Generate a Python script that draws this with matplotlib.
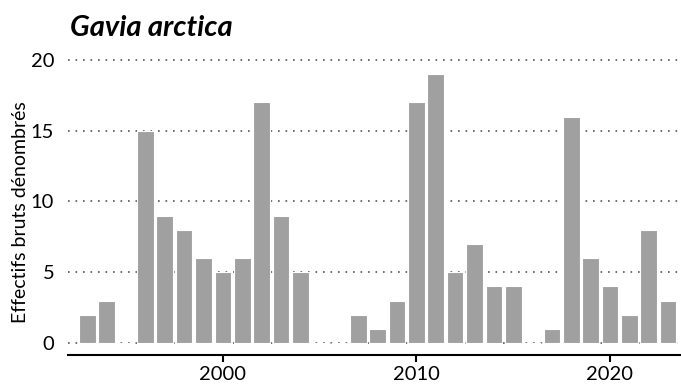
import matplotlib
matplotlib.use("Agg")
import matplotlib.pyplot as plt

years = list(range(1993, 2024))
counts = [2, 3, 0, 15, 9, 8, 6, 5, 6, 17, 9, 5, 0, 0, 2, 1, 3, 17, 19, 5, 7, 4, 4, 0, 1, 16, 6, 4, 2, 8, 3]
xticks = [2000, 2010, 2020]
yticks = [0, 5, 10, 15, 20]

plt.rcParams['font.family'] = ['Lato', 'DejaVu Sans']

fig = plt.figure(figsize=(6.81, 3.92), dpi=100)
ax = fig.add_axes([0.0999, 0.0944, 0.9001, 0.76])

ax.bar(years, counts, width=0.86, color='#a0a0a0', edgecolor='white', linewidth=0.8, zorder=2)

ax.set_xlim(1992.0, 2023.67)
ax.set_ylim(-0.85, 20.2)
ax.set_xticks(xticks)
ax.set_yticks(yticks)
ax.yaxis.grid(True, linestyle=(0, (1, 3.5)), color='#555555', linewidth=1.2, zorder=0)
ax.set_axisbelow(True)

for s in ['top', 'right', 'left']:
    ax.spines[s].set_visible(False)
ax.spines['bottom'].set_linewidth(1.5)
ax.tick_params(axis='y', length=0, labelsize=14.5, pad=10)
ax.tick_params(axis='x', length=5, width=1.5, labelsize=14.5, pad=3)

ax.set_ylabel('Effectifs bruts dénombrés', fontsize=14)
ax.yaxis.set_label_coords(-0.064, 0.48)
fig.text(0.103, 0.928, 'Gavia arctica', fontsize=21, fontweight='bold', fontstyle='italic', va='center', ha='left')

fig.savefig('out.png', dpi=100)
